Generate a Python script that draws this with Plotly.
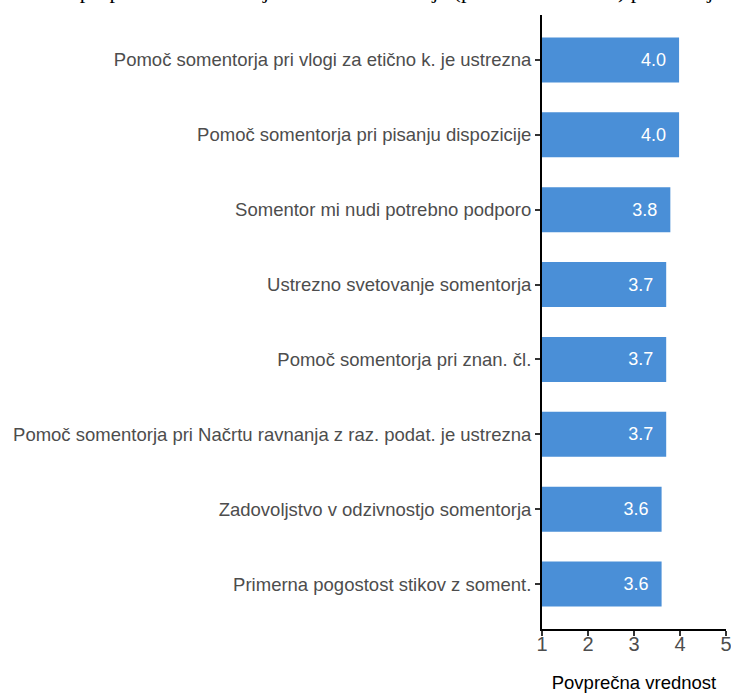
import plotly.graph_objects as go

# trditve o somentorju, od zgoraj navzdol
trditve = [
    "Pomoč somentorja pri vlogi za etično k. je ustrezna",
    "Pomoč somentorja pri pisanju dispozicije",
    "Somentor mi nudi potrebno podporo",
    "Ustrezno svetovanje somentorja",
    "Pomoč somentorja pri znan. čl.",
    "Pomoč somentorja pri Načrtu ravnanja z raz. podat. je ustrezna",
    "Zadovoljstvo v odzivnostjo somentorja",
    "Primerna pogostost stikov z soment.",
]
povprecja = [3.98, 3.98, 3.79, 3.70, 3.70, 3.70, 3.60, 3.60]

naslov = "Ocena pri pomoči somentorja in delu somentorja (potrebe študentov) po mnenju doktorandov"

fig = go.Figure()
fig.add_trace(go.Bar(
    x=povprecja,
    y=trditve,
    orientation="h",
    width=0.6,
    marker=dict(color="#4a8fd7", line=dict(width=0)),
    texttemplate="%{x:.1f}\u00a0\u00a0",
    textposition="inside",
    insidetextanchor="end",
    textfont=dict(color="white", size=18, family="Liberation Sans"),
    hoverinfo="skip",
))

# naslov je v izvirniku odrezan na vrhu
fig.add_annotation(
    text=naslov,
    xref="paper", yref="paper",
    x=(16 - 542) / 184, y=1,
    xanchor="left", yanchor="bottom",
    yshift=10,
    showarrow=False,
    font=dict(family="Liberation Serif", size=22, color="black"),
)

fig.update_layout(
    width=731,
    height=693,
    margin=dict(l=542, r=5, t=15, b=64, autoexpand=False),
    plot_bgcolor="white",
    paper_bgcolor="white",
    showlegend=False,
    font=dict(family="Liberation Sans", size=18, color="#4d4d4d"),
)
fig.update_xaxes(
    range=[1, 5],
    tickvals=[1, 2, 3, 4, 5],
    automargin=False,
    showgrid=False,
    zeroline=False,
    showline=True,
    linecolor="black",
    linewidth=2,
    ticks="outside",
    ticklen=5,
    tickwidth=1.5,
    tickcolor="#333333",
    tickfont=dict(size=20, color="#4d4d4d"),
    ticklabelstandoff=-9,
    ticklabeloverflow="allow",
    title=dict(text="Povprečna vrednost", font=dict(size=18.5, color="black"), standoff=22),
)
fig.update_yaxes(
    type="category",
    categoryorder="array",
    categoryarray=trditve,
    range=[7.6, -0.6],
    automargin=False,
    showgrid=False,
    zeroline=False,
    showline=True,
    linecolor="black",
    linewidth=2,
    ticks="outside",
    ticklen=5,
    tickwidth=1.5,
    tickcolor="#333333",
    tickfont=dict(size=18.5, color="#4d4d4d"),
)

# bez robu strani, da se graf zacne v levem zgornjem kotu
fig.write_html(
    "out.html",
    config={"displayModeBar": False},
    post_script="document.body.style.margin='0';",
)
